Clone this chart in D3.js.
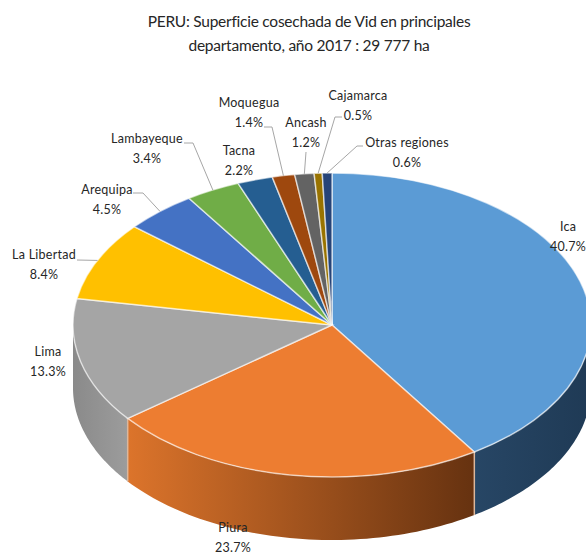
<!DOCTYPE html>
<html>
<head>
<meta charset="utf-8">
<title>Superficie cosechada de Vid</title>
<script src="https://d3js.org/d3.v7.min.js"></script>
<style>
  html, body { margin: 0; background: #fff; overflow: hidden; }
  text { font-family: Lato, "Open Sans", sans-serif; fill: #262626; }
</style>
</head>
<body>
<div id="chart"></div>
<script>
/* data */
var regions = ["Ica", "Piura", "Lima", "La Libertad", "Arequipa", "Lambayeque", "Tacna", "Moquegua", "Ancash", "Cajamarca", "Otras regiones"];
var shares = [40.7, 23.7, 13.3, 8.4, 4.5, 3.4, 2.2, 1.4, 1.2, 0.5, 0.6];
var colors = ["#5b9bd5", "#ed7d31", "#a5a5a5", "#ffc000", "#4472c4", "#70ad47", "#255e91", "#9e480e", "#636363", "#997300", "#264478"];
var titleLines = ["PERU: Superficie cosechada de Vid en principales", "departamento, año 2017 : 29 777 ha"];

/* label layout: centre x, y of name line; leader = elbow points, ends on the slice */
var labelPos = {
  "Ica": {x: 568, y: 231},
  "Piura": {x: 233, y: 532},
  "Lima": {x: 48, y: 356},
  "La Libertad": {x: 44, y: 259, leader: [[77, 260]]},
  "Arequipa": {x: 107, y: 194, leader: [[133, 193], [143, 193]]},
  "Lambayeque": {x: 147, y: 143, leader: [[184, 143], [193, 143]]},
  "Tacna": {x: 239, y: 155},
  "Moquegua": {x: 249, y: 107, leader: [[264, 127], [272, 127]]},
  "Ancash": {x: 306, y: 127, leader: [[306, 152]]},
  "Cajamarca": {x: 358, y: 100, leader: [[342, 117], [335, 117]]},
  "Otras regiones": {x: 407, y: 147, leader: [[363, 146], [357, 146]]}
};

var width = 586, height = 554;
var cx = 332, cy = 325, rx = 259, ry = 152, depth = 63;

var svg = d3.select("#chart").append("svg")
    .attr("width", width)
    .attr("height", height);

var defs = svg.append("defs");

/* wall shading, only three slices show a wall */
var wallStops = {
  0: ["#274665", "#1f3a55"],
  1: ["#dc742b", "#663210"],
  2: ["#8a8a8a", "#9c9c9c"]
};
Object.keys(wallStops).forEach(function(k) {
  var g = defs.append("linearGradient").attr("id", "wall" + k);
  g.append("stop").attr("offset", "0%").attr("stop-color", wallStops[k][0]);
  g.append("stop").attr("offset", "100%").attr("stop-color", wallStops[k][1]);
});

var pie = d3.pie().sort(null).value(function(d) { return d; });
var slices = pie(shares);

function pointAt(a, dy) {
  return [cx + rx * Math.sin(a), cy - ry * Math.cos(a) + (dy || 0)];
}

/* walls of the front half */
var line = d3.line();
var walls = svg.append("g");
slices.forEach(function(s, i) {
  var a0 = Math.max(s.startAngle, Math.PI / 2),
      a1 = Math.min(s.endAngle, Math.PI * 1.5);
  if (a1 <= a0) return;
  var steps = d3.range(0, 61).map(function(t) { return a0 + (a1 - a0) * t / 60; });
  var pts = steps.map(function(a) { return pointAt(a); })
      .concat(steps.slice().reverse().map(function(a) { return pointAt(a, depth); }));
  walls.append("path")
      .attr("d", line(pts) + "Z")
      .attr("fill", "url(#wall" + i + ")");
});

/* light seams where the walls meet */
[slices[0].endAngle, slices[1].endAngle].forEach(function(a) {
  var top = pointAt(a), bottom = pointAt(a, depth);
  walls.append("line")
      .attr("x1", top[0]).attr("y1", top[1])
      .attr("x2", bottom[0]).attr("y2", bottom[1])
      .attr("stroke", "#dcb79c")
      .attr("stroke-width", 1.5);
});

/* top face, d3.arc on a circle squeezed into the ellipse */
var arc = d3.arc().innerRadius(0).outerRadius(rx);
svg.append("g")
    .attr("transform", "translate(" + cx + "," + cy + ") scale(1," + (ry / rx) + ")")
    .selectAll("path")
    .data(slices)
    .enter().append("path")
    .attr("d", arc)
    .attr("fill", function(d, i) { return colors[i]; })
    .attr("stroke", "#ffffff")
    .attr("stroke-opacity", 0.6)
    .attr("stroke-width", 1.5)
    .attr("vector-effect", "non-scaling-stroke");

/* leader lines */
svg.append("g").selectAll("path")
    .data(slices.filter(function(s) { return labelPos[regions[s.index]].leader; }))
    .enter().append("path")
    .attr("d", function(s) {
      var mid = (s.startAngle + s.endAngle) / 2;
      return line(labelPos[regions[s.index]].leader.concat([pointAt(mid)]));
    })
    .attr("fill", "none")
    .attr("stroke", "#a6a6a6")
    .attr("stroke-width", 1);

/* labels */
var labels = svg.append("g").selectAll("text")
    .data(regions)
    .enter().append("text")
    .attr("text-anchor", "middle")
    .attr("font-size", 12.5)
    .attr("letter-spacing", 0.25);
labels.append("tspan")
    .attr("x", function(d) { return labelPos[d].x; })
    .attr("y", function(d) { return labelPos[d].y; })
    .text(function(d) { return d; });
labels.append("tspan")
    .attr("x", function(d) { return labelPos[d].x; })
    .attr("y", function(d) { return labelPos[d].y + 20; })
    .text(function(d, i) { return shares[i].toFixed(1) + "%"; });

/* title */
svg.append("g").selectAll("text")
    .data(titleLines)
    .enter().append("text")
    .attr("x", 309)
    .attr("y", function(d, i) { return 27 + i * 24; })
    .attr("text-anchor", "middle")
    .attr("font-size", 15.5)
    .attr("letter-spacing", -0.25)
    .text(function(d) { return d; });
</script>
</body>
</html>
